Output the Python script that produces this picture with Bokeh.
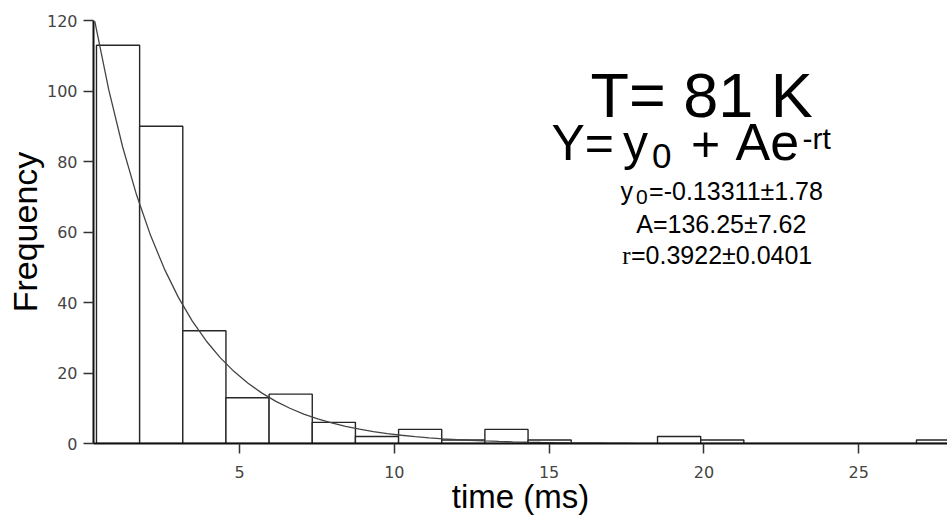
import numpy as np
from bokeh.plotting import figure
from bokeh.models import Label, FixedTicker, Range1d, Title
from bokeh.embed import file_html
from bokeh.resources import INLINE

# ---------------- data ----------------
bin_start = 0.38
bin_width = 1.394
counts = [113, 90, 32, 13, 14, 6, 2, 4, 1, 4, 1, 0, 0, 2, 1, 0, 0, 0, 0, 1]

# fit parameters shown on the chart: Y = y0 + A*exp(-r*t)
fit_y0 = -0.13311
fit_A = 136.25
fit_r = 0.3922
fit_t_start = 0.326
fit_t_end = 27.9

x_ticks = [5, 10, 15, 20, 25]
y_ticks = [0, 20, 40, 60, 80, 100, 120]

x_label = "time (ms)"
y_label = "Frequency"
title_text = "T= 81 K"
param_lines = ["=-0.13311\u00b11.78", "A=136.25\u00b17.62", "=0.3922\u00b10.0401"]

# ---------------- layout ----------------
FIG_W, FIG_H = 947, 515
B_LEFT, B_TOP, B_RIGHT, B_BOTTOM = 93, 20, 0, 72
XR = (0.284, 27.868)
YR = (0, 120)
FRAME_L = B_LEFT
FRAME_T = B_TOP
FRAME_W = FIG_W - B_LEFT - B_RIGHT
FRAME_H = FIG_H - B_TOP - B_BOTTOM
FRAME_B = FRAME_T + FRAME_H
BASE_SHIFT = 0.38  # empirical baseline correction (em)


def dx(px):
    return XR[0] + (px - FRAME_L) * (XR[1] - XR[0]) / FRAME_W


def dy(py):
    return YR[0] + (FRAME_B - py) * (YR[1] - YR[0]) / FRAME_H


p = figure(width=FIG_W, height=FIG_H, output_backend="svg", toolbar_location=None,
           x_range=Range1d(*XR), y_range=Range1d(*YR),
           min_border_left=B_LEFT, min_border_top=B_TOP,
           min_border_right=B_RIGHT, min_border_bottom=B_BOTTOM)
p.outline_line_color = None
p.xgrid.visible = False
p.ygrid.visible = False
p.background_fill_color = "white"
p.border_fill_color = "white"

edges = [bin_start + i * bin_width for i in range(len(counts) + 1)]
p.quad(left=edges[:-1], right=edges[1:], bottom=0, top=counts,
       fill_color="white", line_color="#262626", line_width=1.4)

t = np.arange(fit_t_start, fit_t_end, 0.45)
p.line(t, fit_y0 + fit_A * np.exp(-fit_r * t), line_color="#444444", line_width=1.3)

for ax, ticks in ((p.xaxis, x_ticks), (p.yaxis, y_ticks)):
    ax.ticker = FixedTicker(ticks=ticks)
    ax.minor_tick_line_color = None
    ax.major_tick_in = 0
    ax.major_tick_out = 10
    ax.major_tick_line_color = "#333333"
    ax.major_tick_line_width = 1.5
    ax.axis_line_color = "#111111"
    ax.axis_line_width = 2
    ax.major_label_text_font = "DejaVu Sans"
    ax.major_label_text_font_size = "16px"
    ax.major_label_text_color = "#444444"
p.xaxis.major_label_standoff = 12
p.yaxis.major_label_standoff = 6

SANS = "Liberation Sans"
SERIF = "Liberation Serif"

# axis titles as side titles
p.add_layout(Title(text=x_label, align="center", offset=48, text_font=SANS,
                   text_font_size="33px", text_font_style="normal",
                   text_color="black", standoff=-9), "below")
p.add_layout(Title(text=y_label, align="center", offset=1, text_font=SANS,
                   text_font_size="34px", text_font_style="normal",
                   text_color="black", standoff=0), "left")


def lab(text, px, py, size, align="left", font=SANS):
    p.add_layout(Label(x=dx(px), y=dy(py - BASE_SHIFT * size), text=text, text_font=font,
                       text_font_size=f"{size}px", text_align=align,
                       text_baseline="alphabetic", text_color="black"))


# annotation block
lab(title_text, 590, 118.3, 63)
lab("Y=", 551, 161.7, 50)
lab("y", 622.5, 161.7, 50)
lab("0", 651.5, 168.3, 35)
lab("+", 690.5, 161.7, 50)
lab("Ae", 735, 161.7, 52)
lab("-rt", 802, 149.5, 30)

lab("y", 620, 200, 25)
lab("0", 635.5, 204.3, 21)
lab(param_lines[0], 648.6, 200, 25)
lab(param_lines[1], 720.8, 233.3, 25, align="center")
lab("r", 621.7, 264, 25, font=SERIF)
lab(param_lines[2], 630.5, 264, 25)

open("out.html", "w").write(file_html(p, INLINE))
